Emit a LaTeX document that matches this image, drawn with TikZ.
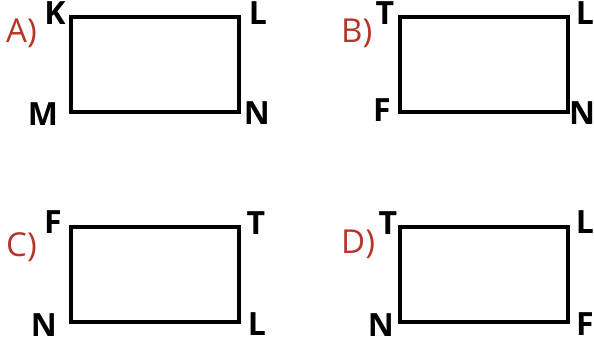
\documentclass[tikz,border=0pt]{standalone}
\usepackage{fontspec}
\setmainfont{Open Sans}
\definecolor{optred}{RGB}{184,52,40}
\begin{document}
\begin{tikzpicture}[x=1pt,y=-1pt,
  vlabel/.style={font=\fontsize{32}{32}\selectfont\bfseries, inner sep=0pt, anchor=base},
  optlabel/.style={font=\fontsize{33}{33}\selectfont, text=optred, inner sep=0pt, anchor=base west},
  rectline/.style={draw=black, line width=3.5pt, line join=miter}]
\useasboundingbox (0,0) rectangle (594,344);
% A
\coordinate (a1) at (71,17); \coordinate (a2) at (239,112);
\draw[rectline] (a1) rectangle (a2);
\node[optlabel] (la) at (6,43) {A)};
\node[vlabel] (aK) at (55,25) {K};
\node[vlabel] (aL) at (258,25) {L};
\node[vlabel] (aM) at (43,126) {M};
\node[vlabel] (aN) at (257,125) {N};
% B
\coordinate (b1) at (400,17); \coordinate (b2) at (568,112);
\draw[rectline] (b1) rectangle (b2);
\node[optlabel] (lb) at (341,43) {B)};
\node[vlabel] (bT) at (385,25) {T};
\node[vlabel] (bL) at (585,25) {L};
\node[vlabel] (bF) at (382,122) {F};
\node[vlabel] (bN) at (582,125) {N};
% C
\coordinate (c1) at (71,227); \coordinate (c2) at (239,322);
\draw[rectline] (c1) rectangle (c2);
\node[optlabel] (lc) at (6,257) {C)};
\node[vlabel] (cF) at (53,234) {F};
\node[vlabel] (cT) at (256,235) {T};
\node[vlabel] (cN) at (44,337) {N};
\node[vlabel] (cL) at (257,336) {L};
% D
\coordinate (d1) at (400,227); \coordinate (d2) at (568,322);
\draw[rectline] (d1) rectangle (d2);
\node[optlabel] (ld) at (341,254) {D)};
\node[vlabel] (dT) at (388,235) {T};
\node[vlabel] (dL) at (585,234) {L};
\node[vlabel] (dN) at (381,337) {N};
\node[vlabel] (dF) at (585,335) {F};
\end{tikzpicture}
\end{document}
